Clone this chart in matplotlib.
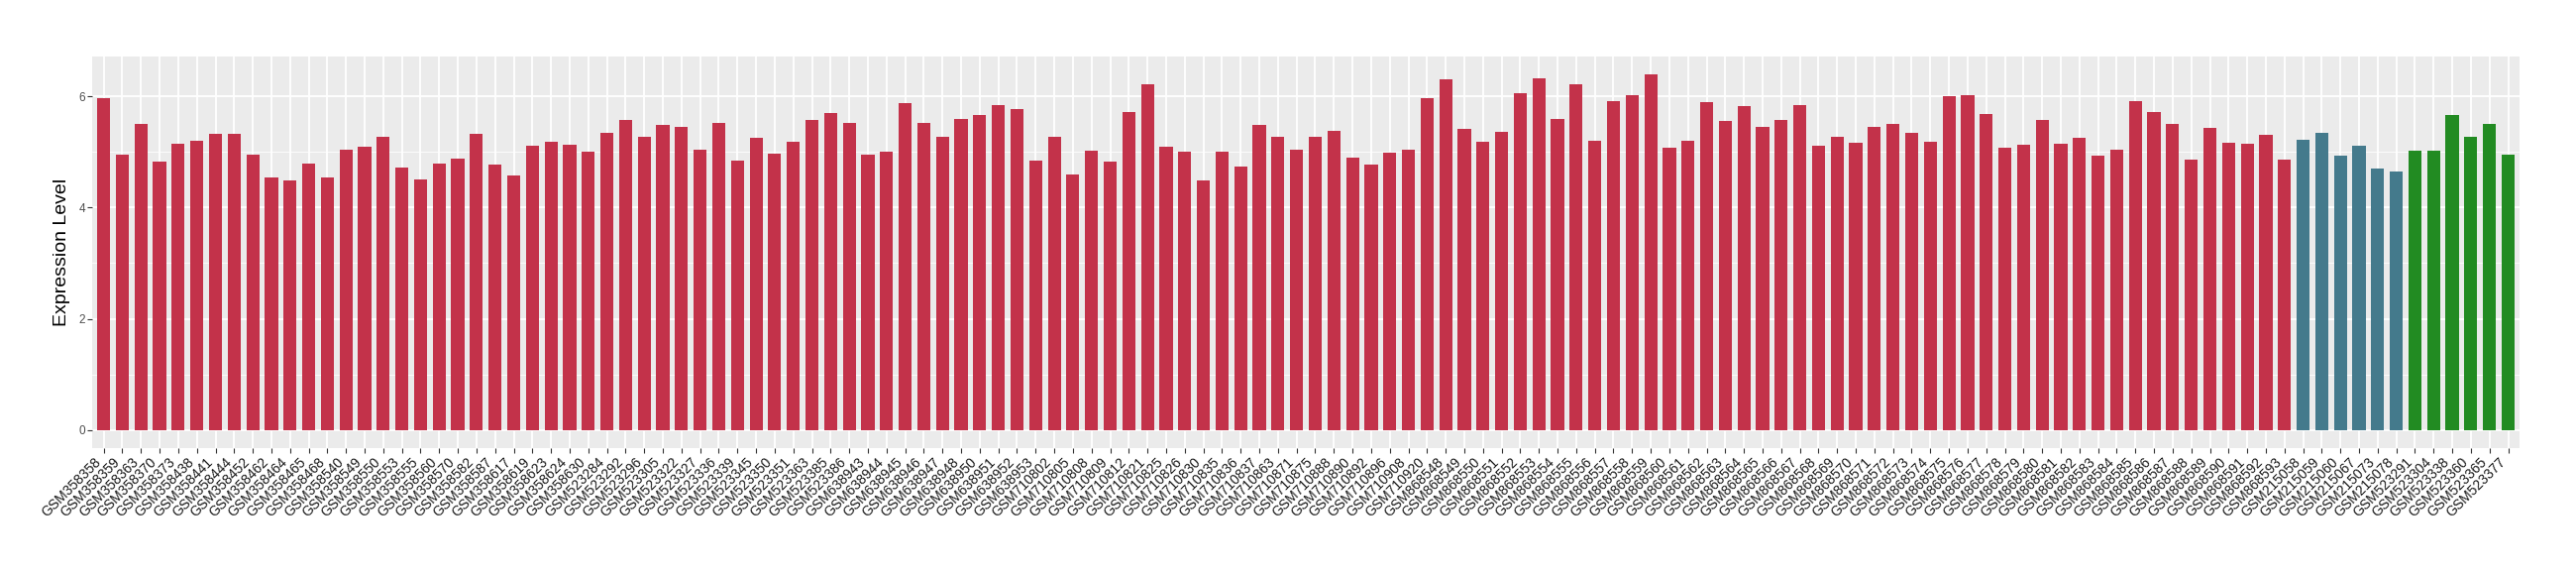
import matplotlib
matplotlib.use('Agg')
import matplotlib.pyplot as plt
import numpy as np

plt.rcParams['font.family'] = ['Liberation Sans', 'DejaVu Sans']

# samples per group (tick labels in plot order)
samples_a = (
    ['GSM358358', 'GSM358359', 'GSM358363', 'GSM358370', 'GSM358373',
     'GSM358438', 'GSM358441', 'GSM358444', 'GSM358452', 'GSM358462',
     'GSM358464', 'GSM358465', 'GSM358468', 'GSM358540', 'GSM358549',
     'GSM358550', 'GSM358553', 'GSM358555', 'GSM358560', 'GSM358570',
     'GSM358582', 'GSM358587', 'GSM358617', 'GSM358619', 'GSM358623',
     'GSM358624', 'GSM358630',
     'GSM523284', 'GSM523292', 'GSM523296', 'GSM523305', 'GSM523322',
     'GSM523327', 'GSM523336', 'GSM523339', 'GSM523345', 'GSM523350',
     'GSM523351', 'GSM523363', 'GSM523385', 'GSM523386',
     'GSM638943', 'GSM638944', 'GSM638945', 'GSM638946', 'GSM638947',
     'GSM638948', 'GSM638950', 'GSM638951', 'GSM638952', 'GSM638953',
     'GSM710802', 'GSM710805', 'GSM710808', 'GSM710809', 'GSM710812',
     'GSM710821', 'GSM710825', 'GSM710826', 'GSM710830', 'GSM710835',
     'GSM710836', 'GSM710837', 'GSM710863', 'GSM710871', 'GSM710875',
     'GSM710888', 'GSM710890', 'GSM710892', 'GSM710896', 'GSM710908',
     'GSM710920']
    + ['GSM8685%02d' % k for k in range(48, 94)]
)
samples_b = ['GSM215058', 'GSM215059', 'GSM215060', 'GSM215067',
             'GSM215073', 'GSM215078']
samples_c = ['GSM523291', 'GSM523304', 'GSM523338', 'GSM523360',
             'GSM523365', 'GSM523377']

expr_a = [5.96, 4.96, 5.51, 4.82, 5.14, 5.21, 5.33, 5.32, 4.96, 4.55,
          4.48, 4.80, 4.55, 5.05, 5.10, 5.27, 4.72, 4.50, 4.80, 4.88,
          5.32, 4.78, 4.57, 5.12, 5.18, 5.13, 5.00, 5.35, 5.58, 5.28,
          5.48, 5.45, 5.05, 5.52, 4.85, 5.25, 4.97, 5.18, 5.57, 5.70,
          5.53, 4.96, 5.00, 5.88, 5.52, 5.28, 5.60, 5.67, 5.85, 5.77,
          4.85, 5.27, 4.60, 5.03, 4.82, 5.72, 6.22, 5.10, 5.00, 4.48,
          5.00, 4.73, 5.48, 5.27, 5.05, 5.28, 5.38, 4.90, 4.77, 4.98,
          5.05, 5.97, 6.30, 5.42, 5.18, 5.37, 6.05, 6.32, 5.60, 6.22,
          5.20, 5.92, 6.03, 6.40, 5.07, 5.20, 5.90, 5.55, 5.82, 5.45,
          5.57, 5.85, 5.12, 5.27, 5.17, 5.45, 5.50, 5.35, 5.18, 6.00,
          6.03, 5.68, 5.08, 5.13, 5.57, 5.15, 5.25, 4.93, 5.05, 5.92,
          5.72, 5.50, 4.87, 5.43, 5.17, 5.15, 5.30, 4.87]
expr_b = [5.22, 5.35, 4.93, 5.12, 4.70, 4.65]
expr_c = [5.03, 5.02, 5.67, 5.27, 5.50, 4.95]

color_a = '#C3324A'
color_b = '#447A8C'
color_c = '#228B22'

samples = samples_a + samples_b + samples_c
values = expr_a + expr_b + expr_c
colors = ([color_a] * len(expr_a) + [color_b] * len(expr_b)
          + [color_c] * len(expr_c))

fig = plt.figure(figsize=(26, 5.8), dpi=100)
ax = fig.add_axes([0.0359, 0.2212, 0.978 - 0.0359, 0.902 - 0.2212])
ax.set_facecolor('#EBEBEB')

x = np.arange(len(samples))
ax.set_axisbelow(True)
for yy in [1, 3, 5]:
    ax.axhline(yy, color='white', lw=0.6, zorder=0)
for yy in [0, 2, 4, 6]:
    ax.axhline(yy, color='white', lw=1.3, zorder=0)
for xx in x:
    ax.axvline(xx, color='white', lw=1.3, zorder=0)

ax.bar(x, values, width=0.7, color=colors, zorder=2)

ax.set_xlim(-0.6, len(samples) - 0.4)
ax.set_ylim(-0.32, 6.72)
ax.set_yticks([0, 2, 4, 6])
ax.set_yticklabels(['0', '2', '4', '6'], fontsize=8.5, color='#4D4D4D')
ax.set_xticks(x)
ax.set_xticklabels(samples, rotation=45, ha='right', va='top',
                   fontsize=10, color='#1A1A1A')
ax.tick_params(axis='both', length=3.3, width=0.8, color='#333333', pad=2)
for s in ax.spines.values():
    s.set_visible(False)

ax.set_ylabel('Expression Level', fontsize=14, labelpad=6)

fig.savefig('out.png', dpi=100)
